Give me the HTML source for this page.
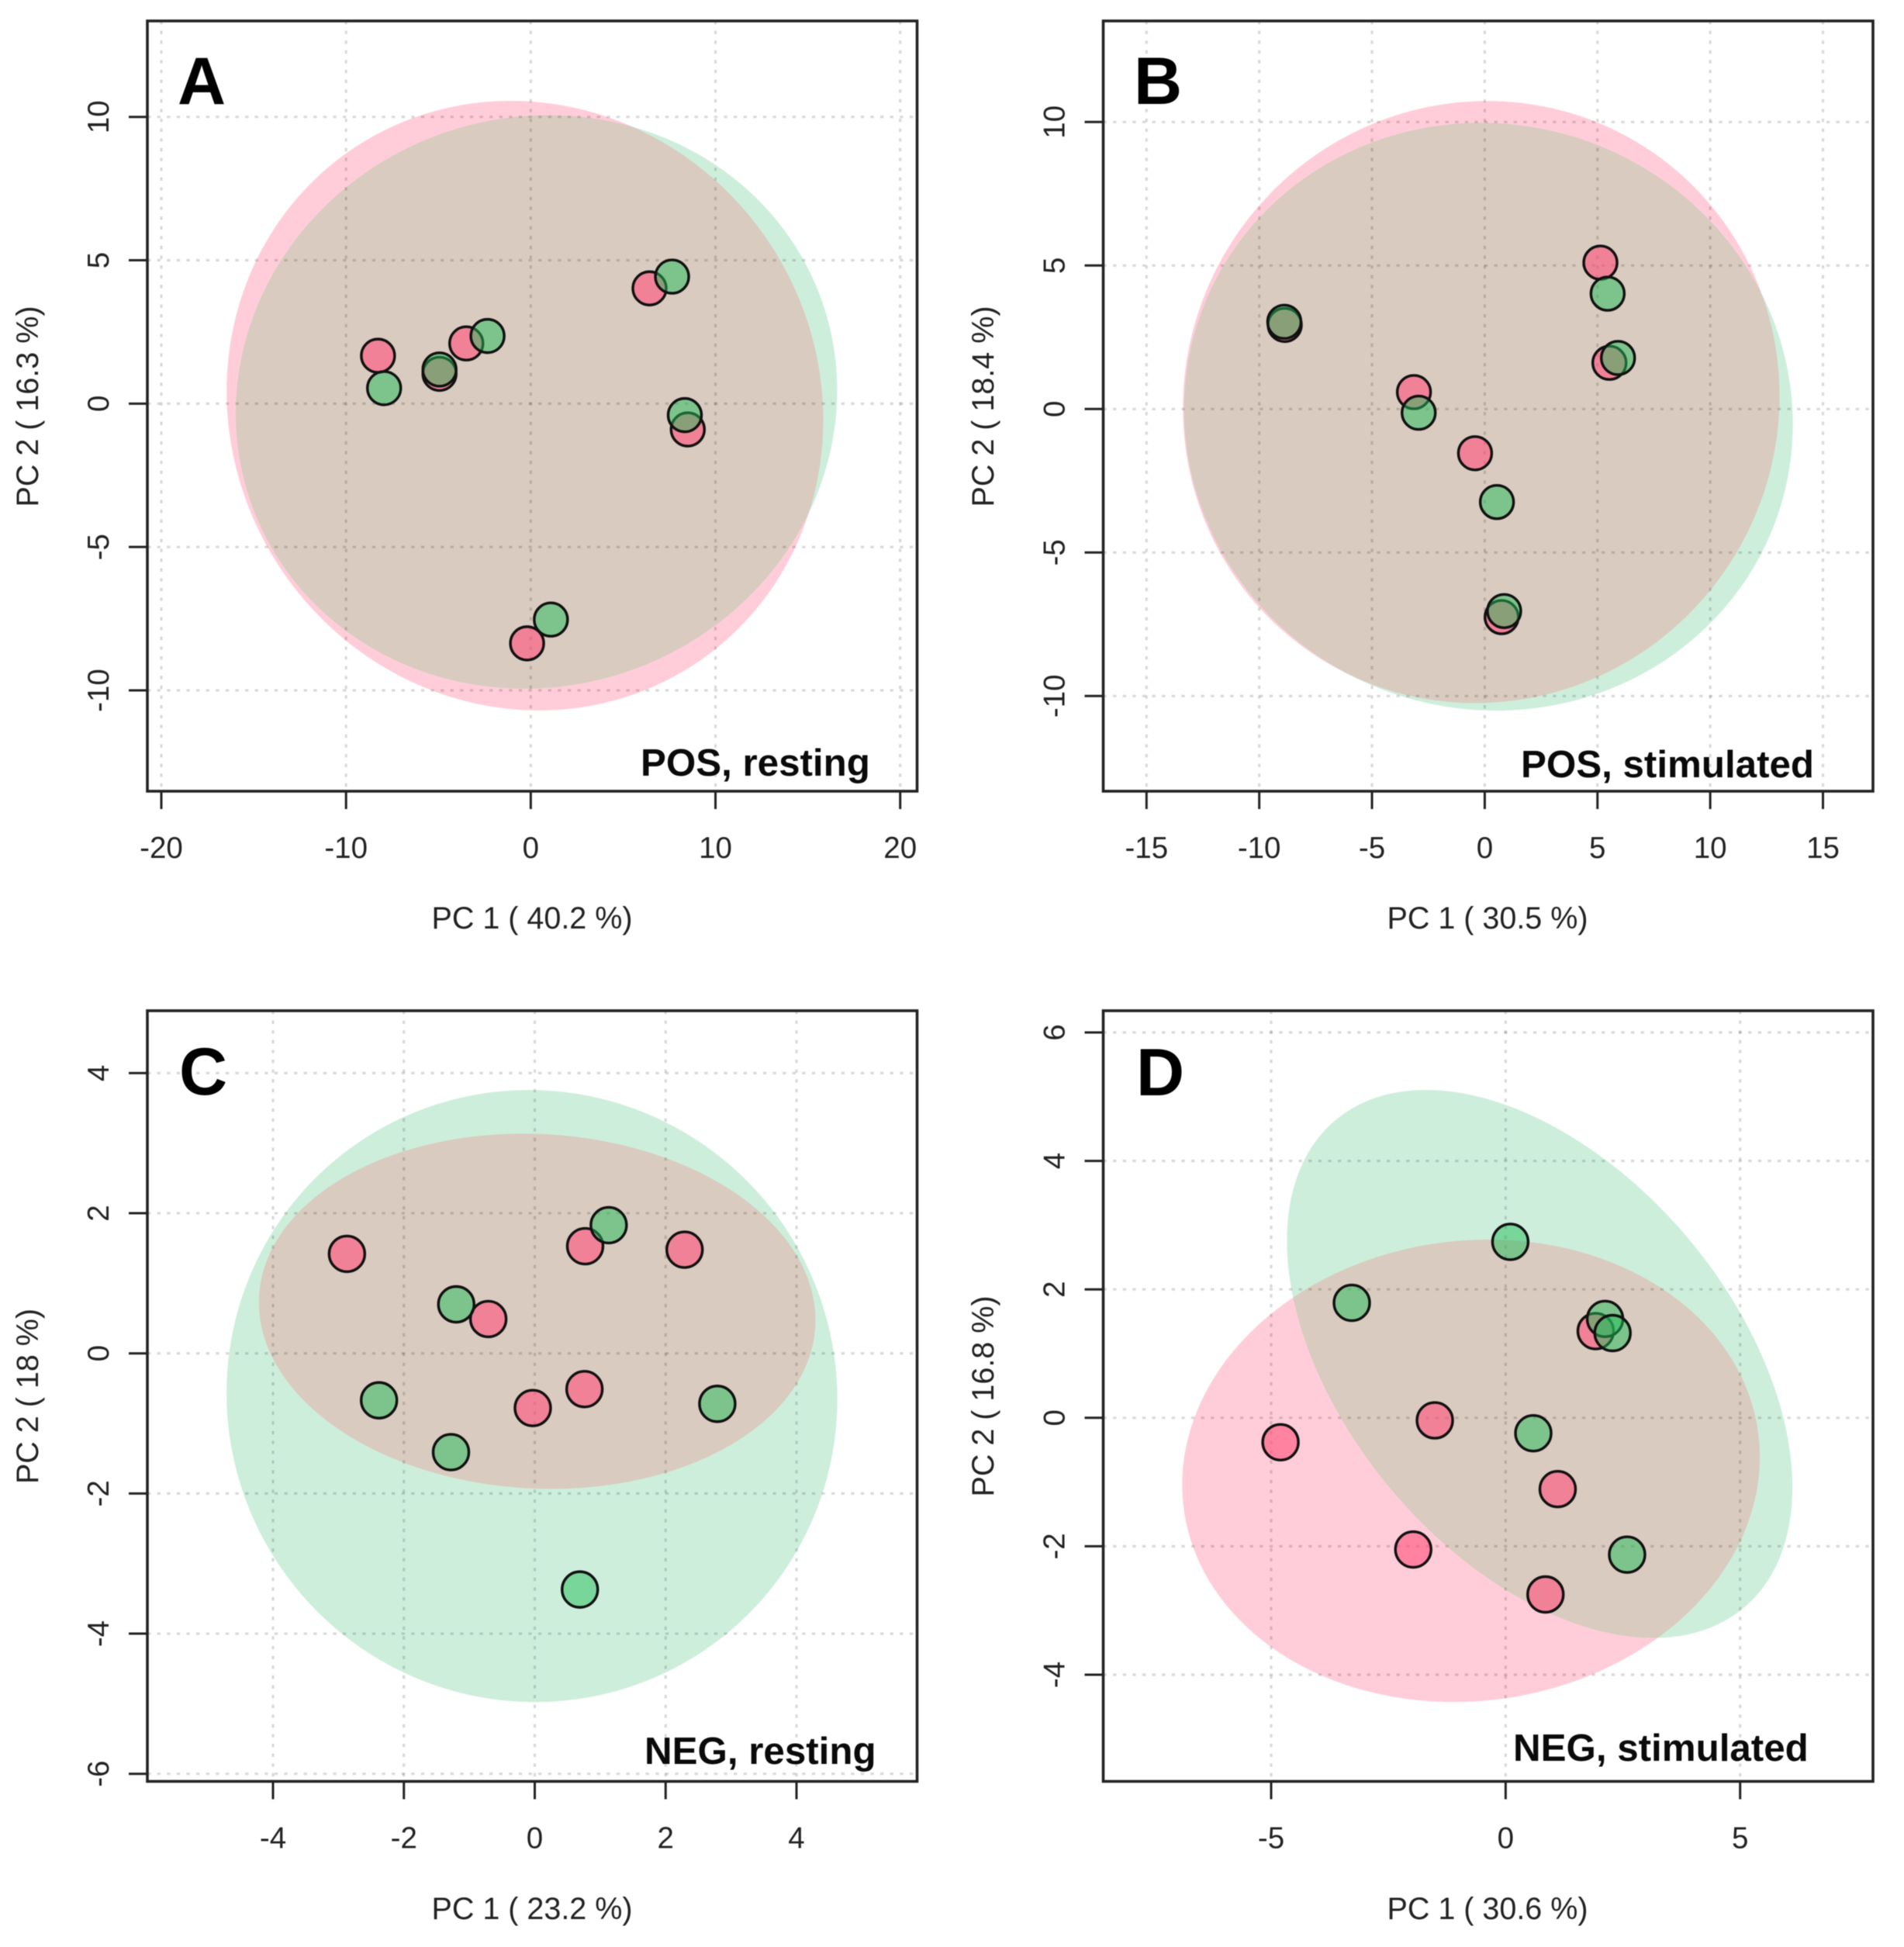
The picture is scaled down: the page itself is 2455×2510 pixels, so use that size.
<!DOCTYPE html>
<html lang="en">
<head>
<meta charset="utf-8">
<title>PCA score plots</title>
<style>
html,body{margin:0;padding:0;background:#fff;}
svg{display:block;filter:blur(0.6px);}
text{font-family:"Liberation Sans",Arial,sans-serif;fill:#222;}
.tick{font-size:38.5px;}
.axt{font-size:39.5px;text-anchor:middle;}
.letter{font-size:86px;font-weight:700;fill:#000;}
.cond{font-size:49.3px;font-weight:700;fill:#0a0a0a;}
.frame{fill:none;stroke:#222;stroke-width:3.6;}
</style>
</head>
<body>
<svg id="chart" width="2455" height="2510" viewBox="0 0 2455 2510" xmlns="http://www.w3.org/2000/svg">
  <rect width="2455" height="2510" fill="#fff"/>

  <g id="panel-a">
    <g id="marks-a"></g>
    <rect class="frame" x="190" y="27" width="992.5" height="993"/>
    <text class="letter" x="229" y="134">A</text>
    <text class="cond" x="826" y="1000">POS, resting</text>
    <text class="axt" x="686" y="1197">PC 1 ( 40.2 %)</text>
    <text class="axt" transform="translate(49,524) rotate(-90)">PC 2 ( 16.3 %)</text>
  </g>

  <g id="panel-b">
    <g id="marks-b"></g>
    <rect class="frame" x="1422.5" y="27" width="992.5" height="993"/>
    <text class="letter" x="1462" y="134">B</text>
    <text class="cond" x="1961" y="1002">POS, stimulated</text>
    <text class="axt" x="1918" y="1197">PC 1 ( 30.5 %)</text>
    <text class="axt" transform="translate(1281,524) rotate(-90)">PC 2 ( 18.4 %)</text>
  </g>

  <g id="panel-c">
    <g id="marks-c"></g>
    <rect class="frame" x="190" y="1303" width="992.5" height="993.5"/>
    <text class="letter" x="231" y="1411">C</text>
    <text class="cond" x="831" y="2274">NEG, resting</text>
    <text class="axt" x="686" y="2474">PC 1 ( 23.2 %)</text>
    <text class="axt" transform="translate(49,1800) rotate(-90)">PC 2 ( 18 %)</text>
  </g>

  <g id="panel-d">
    <g id="marks-d"></g>
    <rect class="frame" x="1422.5" y="1303" width="992.5" height="993.5"/>
    <text class="letter" x="1465" y="1412">D</text>
    <text class="cond" x="1951" y="2270">NEG, stimulated</text>
    <text class="axt" x="1918" y="2474">PC 1 ( 30.6 %)</text>
    <text class="axt" transform="translate(1281,1800) rotate(-90)">PC 2 ( 16.8 %)</text>
  </g>
</svg>

<script>
// Tick labels
const aXTicks = [-20, -10, 0, 10, 20];
const aYTicks = [-10, -5, 0, 5, 10];
const bXTicks = [-15, -10, -5, 0, 5, 10, 15];
const bYTicks = [-10, -5, 0, 5, 10];
const cXTicks = [-4, -2, 0, 2, 4];
const cYTicks = [-6, -4, -2, 0, 2, 4];
const dXTicks = [-5, 0, 5];
const dYTicks = [-4, -2, 0, 2, 4, 6];

// Scores: PC1 / PC2 for each group
const aPinkPC1 = [-8.27, -4.94, -3.49, 6.43, 8.50, -0.20];
const aPinkPC2 = [1.67, 1.04, 2.10, 4.02, -0.90, -8.36];
const aGreenPC1 = [-7.94, -4.94, -2.34, 7.65, 8.34, 1.09];
const aGreenPC2 = [0.54, 1.19, 2.36, 4.43, -0.40, -7.53];

const bPinkPC1 = [-8.87, -3.14, -0.43, 5.13, 5.53, 0.75];
const bPinkPC2 = [2.93, 0.59, -1.54, 5.10, 1.61, -7.25];
const bGreenPC1 = [-8.89, -2.93, 0.54, 5.45, 5.91, 0.86];
const bGreenPC2 = [3.04, -0.13, -3.24, 4.02, 1.78, -7.04];

const cPinkPC1 = [-2.87, -0.71, 0.77, 2.29, -0.03, 0.76];
const cPinkPC2 = [1.42, 0.49, 1.53, 1.48, -0.78, -0.51];
const cGreenPC1 = [-1.20, 1.13, -2.38, -1.28, 2.79, 0.69];
const cGreenPC2 = [0.70, 1.83, -0.67, -1.41, -0.72, -3.37];

const dPinkPC1 = [-4.80, -1.51, 1.11, -1.97, 0.85, 1.92];
const dPinkPC2 = [-0.38, -0.04, -1.11, -2.05, -2.75, 1.35];
const dGreenPC1 = [-3.28, 0.10, 2.12, 2.28, 0.59, 2.59];
const dGreenPC2 = [1.79, 2.74, 1.54, 1.32, -0.24, -2.13];

// Confidence ellipses: centre PC1, centre PC2, half-extent PC1, half-extent PC2, correlation
const aPinkEllipse = [-0.315, -0.07, 16.15, 10.63, -0.047];
const aGreenEllipse = [0.31, 0.06, 16.28, 10.0, 0.04];
const bPinkEllipse = [-0.155, 0.243, 13.23, 10.49, 0.02];
const bGreenEllipse = [0.165, -0.268, 13.5, 10.24, -0.025];
const cPinkEllipse = [0.037, 0.601, 4.253, 2.535, -0.05];
const cGreenEllipse = [-0.043, -0.609, 4.667, 4.368, -0.01];
const dPinkEllipse = [-0.739, -0.825, 6.158, 3.60, 0.06];
const dGreenEllipse = [0.726, 0.839, 5.39, 4.266, -0.45];

const NS = 'http://www.w3.org/2000/svg';

function linear(domain, range) {
  return function (v) {
    return range[0] + (v - domain[0]) * (range[1] - range[0]) / (domain[1] - domain[0]);
  };
}

function el(parent, tag, attrs) {
  const node = document.createElementNS(NS, tag);
  for (const k in attrs) node.setAttribute(k, attrs[k]);
  parent.appendChild(node);
  return node;
}

function ellipsePath(e, sx, sy) {
  const d = Math.acos(e[4]);
  const pts = [];
  for (let i = 0; i < 240; i++) {
    const t = i / 240 * Math.PI * 2;
    const px = sx(e[0] + e[2] * Math.cos(t));
    const py = sy(e[1] + e[3] * Math.cos(t + d));
    pts.push(px.toFixed(2) + ',' + py.toFixed(2));
  }
  return 'M' + pts.join('L') + 'Z';
}

function drawPanel(p) {
  const root = document.getElementById('marks-' + p.id);
  const sx = linear(p.xDomain, p.xRange);
  const sy = linear(p.yDomain, p.yRange);

  const pinkD = ellipsePath(p.pinkEllipse, sx, sy);
  const greenD = ellipsePath(p.greenEllipse, sx, sy);

  const pinkEl = el(root, 'path', { d: pinkD, fill: '#FFCDD9' });
  
  

  const greenEl = el(root, 'path', { d: greenD, fill: '#CEEEDC' });
  
  

  const clip = el(root, 'clipPath', { id: 'clip-' + p.id });
  el(clip, 'path', { d: pinkD });

  const overlapEl = el(root, 'path', { d: greenD, fill: '#D9CBBF', 'clip-path': 'url(#clip-' + p.id + ')' });
  
  

  p.xTicks.forEach(function (v) {
    const x = sx(v);
    const grid = el(root, 'line', { x1: x, x2: x, y1: p.top, y2: p.bottom, stroke: 'rgba(0,0,0,0.15)', 'stroke-width': 3.2, 'stroke-dasharray': '4.4 8.2' });
    
    

    const tick = el(root, 'line', { x1: x, x2: x, y1: p.bottom, y2: p.bottom + 23, stroke: '#222', 'stroke-width': 3 });
    
    

    const label = el(root, 'text', { x: x, y: p.bottom + 86, class: 'tick', 'text-anchor': 'middle' });
    label.textContent = String(v);
    
    
  });

  p.yTicks.forEach(function (v) {
    const y = sy(v);
    const grid = el(root, 'line', { x1: p.left, x2: p.right, y1: y, y2: y, stroke: 'rgba(0,0,0,0.15)', 'stroke-width': 3.2, 'stroke-dasharray': '4.4 8.2' });
    
    

    const tick = el(root, 'line', { x1: p.left - 24, x2: p.left, y1: y, y2: y, stroke: '#222', 'stroke-width': 3 });
    
    

    const label = el(root, 'text', { class: 'tick', 'text-anchor': 'middle', transform: 'translate(' + (p.left - 50) + ',' + y + ') rotate(-90)' });
    label.textContent = String(v);
    
    
  });

  p.pinkX.forEach(function (v, i) {
    const c = el(root, 'circle', { cx: sx(v), cy: sy(p.pinkY[i]), r: p.r, fill: 'rgba(255,80,123,0.6)', stroke: '#111', 'stroke-width': 3.4 });
    
    
  });

  p.greenX.forEach(function (v, i) {
    const c = el(root, 'circle', { cx: sx(v), cy: sy(p.greenY[i]), r: p.r, fill: 'rgba(33,190,90,0.5)', stroke: '#111', 'stroke-width': 3.4 });
    
    
  });
}

drawPanel({
  id: 'a', left: 190, right: 1182.5, top: 27, bottom: 1020, r: 21.5,
  xDomain: [-20, 20], xRange: [208, 1160.7], yDomain: [-10, 10], yRange: [890, 150.7],
  xTicks: aXTicks, yTicks: aYTicks,
  pinkX: aPinkPC1, pinkY: aPinkPC2, greenX: aGreenPC1, greenY: aGreenPC2,
  pinkEllipse: aPinkEllipse, greenEllipse: aGreenEllipse
});
drawPanel({
  id: 'b', left: 1422.5, right: 2415, top: 27, bottom: 1020, r: 21.5,
  xDomain: [-15, 15], xRange: [1478.3, 2350.5], yDomain: [-10, 10], yRange: [897.3, 157.3],
  xTicks: bXTicks, yTicks: bYTicks,
  pinkX: bPinkPC1, pinkY: bPinkPC2, greenX: bGreenPC1, greenY: bGreenPC2,
  pinkEllipse: bPinkEllipse, greenEllipse: bGreenEllipse
});
drawPanel({
  id: 'c', left: 190, right: 1182.5, top: 1303, bottom: 2296.5, r: 23,
  xDomain: [-4, 4], xRange: [352, 1027], yDomain: [-6, 4], yRange: [2286.7, 1383.4],
  xTicks: cXTicks, yTicks: cYTicks,
  pinkX: cPinkPC1, pinkY: cPinkPC2, greenX: cGreenPC1, greenY: cGreenPC2,
  pinkEllipse: cPinkEllipse, greenEllipse: cGreenEllipse
});
drawPanel({
  id: 'd', left: 1422.5, right: 2415, top: 1303, bottom: 2296.5, r: 23,
  xDomain: [-5, 5], xRange: [1639, 2243.7], yDomain: [-4, 6], yRange: [2159, 1331],
  xTicks: dXTicks, yTicks: dYTicks,
  pinkX: dPinkPC1, pinkY: dPinkPC2, greenX: dGreenPC1, greenY: dGreenPC2,
  pinkEllipse: dPinkEllipse, greenEllipse: dGreenEllipse
});
</script>
</body>
</html>
